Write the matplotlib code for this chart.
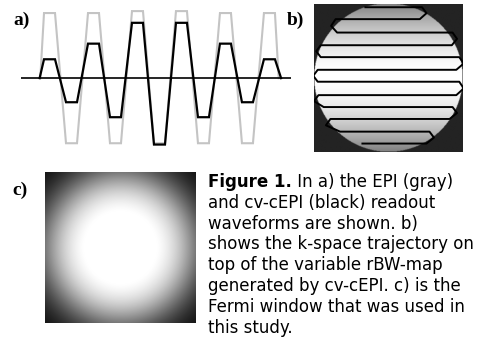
import matplotlib
matplotlib.use('Agg')
import matplotlib.pyplot as plt
import numpy as np

W, H = 486, 340

# a) readout lobes, amplitude relative to full EPI gradient
epi_amps = [1.0, -1.0, 1.0, -1.0, 1.03, -1.0, 1.03, -1.0, 1.0, -1.0, 1.0]
cepi_amps = [0.29, -0.37, 0.53, -0.6, 0.85, -1.02, 0.85, -0.6, 0.53, -0.37, 0.29]

# b) k-space lines (ky, kx left end, kx right end), normalised to the map radius
traj_ky = [0.95, 0.79, 0.61, 0.44, 0.28, 0.11, -0.05, -0.23, -0.39, -0.55, -0.72, -0.88]
traj_left = [-0.31, -0.71, -0.69, -0.91, -0.91, -0.95, -0.95, -0.94, -0.87, -0.78, -0.65, -0.35]
traj_right = [0.45, 0.42, 0.86, 0.85, 0.95, 0.91, 0.95, 0.91, 0.86, 0.82, 0.55, 0.51]

# c) fermi window
fermi_r0 = 0.95
fermi_w = 0.19

caption_lines = [
    'In a) the EPI (gray)',
    'and cv-cEPI (black) readout',
    'waveforms are shown. b)',
    'shows the k-space trajectory on',
    'top of the variable rBW-map',
    'generated by cv-cEPI. c) is the',
    'Fermi window that was used in',
    'this study.',
]


def px_axes(fig, x0, y0, x1, y1):
    # pixel box (top-left origin) -> axes
    ax = fig.add_axes([x0 / W, 1 - y1 / H, (x1 - x0) / W, (y1 - y0) / H])
    ax.set_axis_off()
    return ax


def waveform(amps, half, start, end):
    t = [start]
    y = [0]
    for k, a in enumerate(amps):
        t += [k - half, k + half]
        y += [a, a]
    t.append(end)
    y.append(0)
    return t, y


fig = plt.figure(figsize=(W / 100, H / 100), dpi=100)

# ---- a) waveforms
axa = px_axes(fig, 20.7, 9.8, 291, 146.5)
tg, yg = waveform(epi_amps, 0.25, -0.42, 10.42)
tb, yb = waveform(cepi_amps, 0.25, -0.45, 10.53)
axa.plot(tg, yg, color='#c4c4c4', lw=1.5, solid_joinstyle='miter')
axa.axhline(0, color='black', lw=1.2)
axa.plot(tb, yb, color='black', lw=1.6, solid_joinstyle='miter')
axa.set_xlim(-1.31, 10.98)
axa.set_ylim(-1.05, 1.05)

# ---- b) rBW map + trajectory
axb = px_axes(fig, 314, 3, 463, 153)
g = np.linspace(-1, 1, 300)
kx, ky = np.meshgrid(g, g)
rbw = 1 - 0.5 * np.abs(ky) ** 1.8
rbw[np.hypot(kx, ky) > 1.0] = 0.14
axb.imshow(rbw, cmap='gray', vmin=0, vmax=1, extent=[-1, 1, -1, 1], origin='lower', interpolation='bilinear')
xs, ys = [], []
for i in range(len(traj_ky)):
    if i % 2 == 0:
        xs += [traj_left[i], traj_right[i]]
    else:
        xs += [traj_right[i], traj_left[i]]
    ys += [traj_ky[i], traj_ky[i]]
    if i < len(traj_ky) - 1:
        mid = (traj_ky[i] + traj_ky[i + 1]) / 2
        if i % 2 == 0:
            xs.append(max(traj_right[i], traj_right[i + 1]) + 0.06)
        else:
            xs.append(min(traj_left[i], traj_left[i + 1]) - 0.06)
        ys.append(mid)
axb.plot(xs, ys, color='black', lw=1.4)
axb.set_xlim(-1, 1)
axb.set_ylim(-1, 1)

# ---- c) fermi window
axc = px_axes(fig, 43, 172, 197, 323)
r = np.hypot(kx, ky)
fermi = 1 / (1 + np.exp((r - fermi_r0) / fermi_w))
axc.imshow(fermi, cmap='gray', vmin=0, vmax=0.92, extent=[-1, 1, -1, 1], origin='lower')

# panel labels
for lab, x, y in [('a)', 13, 25), ('b)', 287, 25), ('c)', 12, 195)]:
    fig.text(x / W, 1 - y / H, lab, family='Liberation Serif', weight='bold', fontsize=14, va='baseline')

# caption
fs = 12
x0 = 208
base0 = 187
step = 20.8
t = fig.text(x0 / W, 1 - base0 / H, 'Figure 1.', family='DejaVu Sans', weight='bold', fontsize=fs, va='baseline')
fig.canvas.draw()
bb = t.get_window_extent()
fig.text(bb.x1 / W, 1 - base0 / H, ' ' + caption_lines[0], family='DejaVu Sans', fontsize=fs, va='baseline')
for i, line in enumerate(caption_lines[1:], start=1):
    fig.text(x0 / W, 1 - (base0 + i * step) / H, line, family='DejaVu Sans', fontsize=fs, va='baseline')

fig.savefig('out.png', dpi=100)
